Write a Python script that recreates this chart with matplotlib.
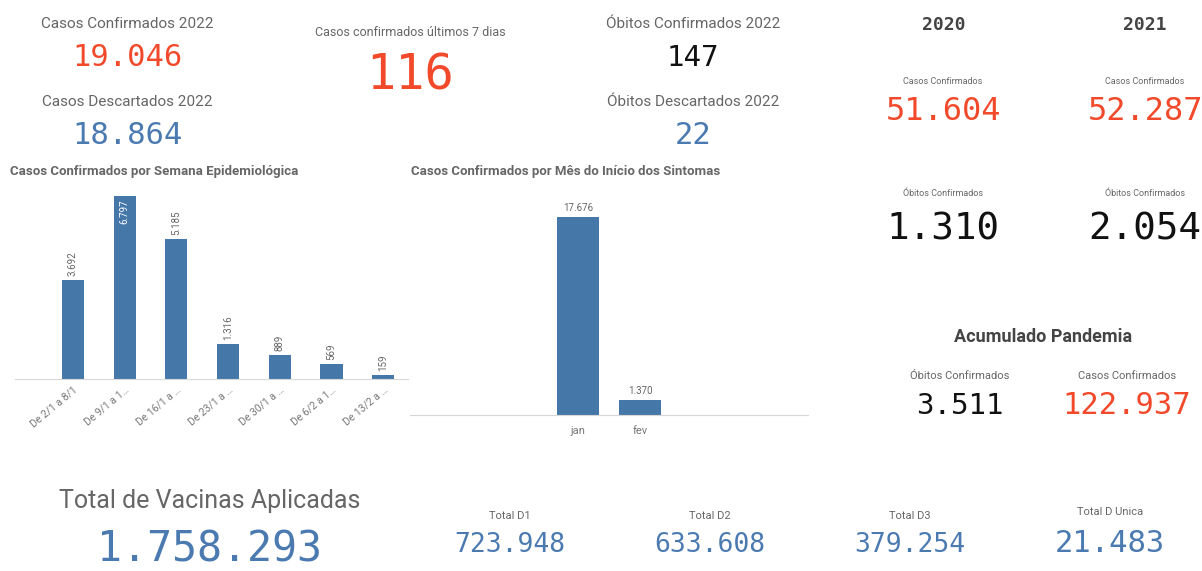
import matplotlib
matplotlib.use("Agg")
import matplotlib.pyplot as plt

W, H = 1202, 571

RED = "#f2492a"
BLUE = "#4a7ab0"
BAR = "#4577a8"
GRAY = "#666666"
BLACK = "#111111"
SANS = ["Roboto", "DejaVu Sans"]
MONO = ["DejaVu Sans Mono"]

# weekly chart data
semanas = ["De 2/1 a 8/1", "De 9/1 a 1…", "De 16/1 a …", "De 23/1 a …",
           "De 30/1 a …", "De 6/2 a 1…", "De 13/2 a …"]
casos_semana = [3692, 6797, 5185, 1316, 889, 569, 159]

# monthly chart data
meses = ["jan", "fev"]
casos_mes = [17676, 1370]

# KPI cards: (label, value, colour, cx, label_y, value_y, label_size, value_size)
kpis = [
    ("Casos Confirmados 2022", "19.046", RED, 127, 24, 58, 11, 22),
    ("Casos Descartados 2022", "18.864", BLUE, 127, 102, 135, 11, 22),
    ("Casos confirmados últimos 7 dias", "116", RED, 410, 33, 76, 9, 35),
    ("Óbitos Confirmados 2022", "147", BLACK, 693, 24, 58, 11, 21),
    ("Óbitos Descartados 2022", "22", BLUE, 693, 102, 135, 11, 22),
    ("Casos Confirmados", "51.604", RED, 943, 82, 112, 6.5, 23),
    ("Casos Confirmados", "52.287", RED, 1145, 82, 112, 6.5, 23),
    ("Óbitos Confirmados", "1.310", BLACK, 943, 194, 229, 6.5, 27),
    ("Óbitos Confirmados", "2.054", BLACK, 1145, 194, 229, 6.5, 27),
    ("Óbitos Confirmados", "3.511", BLACK, 960, 376, 406, 8, 21),
    ("Casos Confirmados", "122.937", RED, 1127, 376, 406, 8, 22),
    ("Total de Vacinas Aplicadas", "1.758.293", BLUE, 210, 501, 549, 18, 30),
    ("Total D1", "723.948", BLUE, 510, 516, 545, 8, 19),
    ("Total D2", "633.608", BLUE, 710, 516, 545, 8, 19),
    ("Total D3", "379.254", BLUE, 910, 516, 545, 8, 19),
    ("Total D Unica", "21.483", BLUE, 1110, 512, 544, 8, 22),
]


def fx(px):
    return px / W


def fy(py):
    return 1 - py / H


fig = plt.figure(figsize=(W / 100, H / 100), dpi=100)
fig.patch.set_facecolor("white")

for label, value, color, cx, ly, vy, ls, vs in kpis:
    fig.text(fx(cx), fy(ly), label, ha="center", va="center", fontsize=ls,
             color=GRAY, family=SANS)
    fig.text(fx(cx), fy(vy), value, ha="center", va="center", fontsize=vs,
             color=color, family=MONO)

fig.text(fx(944), fy(25), "2020", ha="center", va="center", fontsize=13,
         fontweight="bold", color="#444444", family=MONO)
fig.text(fx(1145), fy(25), "2021", ha="center", va="center", fontsize=13,
         fontweight="bold", color="#444444", family=MONO)
fig.text(fx(1043), fy(337), "Acumulado Pandemia", ha="center", va="center",
         fontsize=13, fontweight="bold", color="#444444", family=SANS)

# weekly bar chart
fig.text(fx(10), fy(172), "Casos Confirmados por Semana Epidemiológica",
         ha="left", va="center", fontsize=9.5, fontweight="bold",
         color=GRAY, family=SANS)
ax1 = fig.add_axes([fx(15), fy(379), fx(408 - 15), (379 - 190) / H])
x1 = range(len(semanas))
ax1.bar(x1, casos_semana, width=0.43, color=BAR)
ax1.set_xlim(-1.12, 6.48)
ax1.set_ylim(0, 7020)
for i, v in enumerate(casos_semana):
    s = f"{v:,}".replace(",", ".")
    if v == max(casos_semana):
        ax1.text(i, v - 120, s, rotation=90, ha="center", va="top",
                 fontsize=7, color="white", family=SANS)
    else:
        ax1.text(i, v + 150, s, rotation=90, ha="center", va="bottom",
                 fontsize=7, color=GRAY, family=SANS)
ax1.set_xticks(list(x1))
ax1.set_xticklabels(semanas, rotation=40, ha="right", rotation_mode="anchor",
                    fontsize=7.5, color="#777777", family=SANS)
ax1.set_yticks([])
ax1.tick_params(axis="x", length=0, pad=4)
for sp in ["top", "right", "left"]:
    ax1.spines[sp].set_visible(False)
ax1.spines["bottom"].set_color("#d8d8d8")

# monthly bar chart
fig.text(fx(411), fy(172), "Casos Confirmados por Mês do Início dos Sintomas",
         ha="left", va="center", fontsize=9.5, fontweight="bold",
         color=GRAY, family=SANS)
ax2 = fig.add_axes([fx(410), fy(415), fx(808 - 410), (415 - 205) / H])
x2 = range(len(meses))
ax2.bar(x2, casos_mes, width=0.69, color=BAR)
ax2.set_xlim(-2.71, 3.71)
ax2.set_ylim(0, 18750)
for i, v in enumerate(casos_mes):
    s = f"{v:,}".replace(",", ".")
    ax2.text(i, v + 350, s, ha="center", va="bottom", fontsize=7,
             color=GRAY, family=SANS)
ax2.set_xticks(list(x2))
ax2.set_xticklabels(meses, fontsize=8, color="#777777", family=SANS)
ax2.set_yticks([])
ax2.tick_params(axis="x", length=0, pad=8)
for sp in ["top", "right", "left"]:
    ax2.spines[sp].set_visible(False)
ax2.spines["bottom"].set_color("#d8d8d8")

fig.savefig("out.png", dpi=100, facecolor="white")
